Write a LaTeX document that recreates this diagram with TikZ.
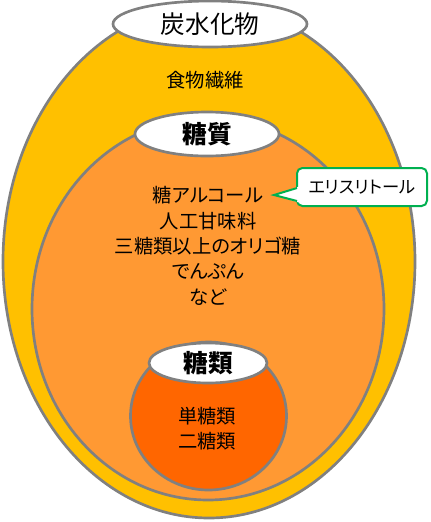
\documentclass[tikz,border=0pt]{standalone}
\usepackage{fontspec}
\setmainfont[RawFeature=+palt]{Noto Sans CJK JP}
\usetikzlibrary{shapes.geometric}

\definecolor{rimgray}{RGB}{128,128,128}
\definecolor{carbofill}{RGB}{255,192,0}
\definecolor{sugarfill}{RGB}{255,153,51}
\definecolor{saccfill}{RGB}{255,102,0}
\definecolor{calloutgreen}{RGB}{0,176,80}

\begin{document}
\begin{tikzpicture}[x=0.75pt,y=0.75pt,yscale=-1,xscale=1,
  rim/.style={draw=rimgray, line width=2pt},
  tag/.style={ellipse, rim, fill=white, inner sep=0pt, font=\fontsize{18.5}{20}\selectfont},
  body/.style={align=center, inner sep=0.75pt, font=\fontsize{14.5}{19}\selectfont}]
\useasboundingbox (0,0) rectangle (430,522);

%Ellipses
\draw [rim, fill=carbofill] (209,261.5) ellipse [x radius=206, y radius=256.5];
\draw [rim, fill=sugarfill] (208,309) ellipse [x radius=176, y radius=191];
\draw [rim, fill=saccfill] (208.5,416) ellipse [x radius=78, y radius=74];

% Label Nodes
\node [tag, minimum width=145.5pt, minimum height=34.5pt] (carbo) at (210,24) {炭水化物};
\node [tag, minimum width=108pt, minimum height=33pt, font=\fontsize{18.5}{20}\selectfont\bfseries] (sugar) at (207,134) {糖質};
\node [tag, minimum width=88.5pt, minimum height=30pt, font=\fontsize{18.5}{20}\selectfont\bfseries] (sacc) at (208,363) {糖類};

% Text Node
\node [body] (fiber) at (205,80) {食物繊維};
% Text Node
\node [body] (others) at (208,246) {糖アルコール\\人工甘味料\\三糖類以上のオリゴ糖\\でんぷん\\など};
% Text Node
\node [body, font=\fontsize{14.5}{18.75}\selectfont] (mono) at (207,429) {単糖類\\二糖類};

% Callout
\node [draw=calloutgreen, line width=1.5pt, fill=white, rounded corners=4pt, minimum width=97.5pt, minimum height=28.5pt, inner sep=0pt, font=\fontsize{13}{16}\selectfont] (erythritol) at (362,187) {エリスリトール};
\coordinate (tip) at (274,195);
\fill [white] (299,186.5) -- (tip) -- (299,202.5) -- cycle;
\draw [calloutgreen, line width=1.5pt] (297,188) -- (tip) -- (297,201);

\end{tikzpicture}
\end{document}
